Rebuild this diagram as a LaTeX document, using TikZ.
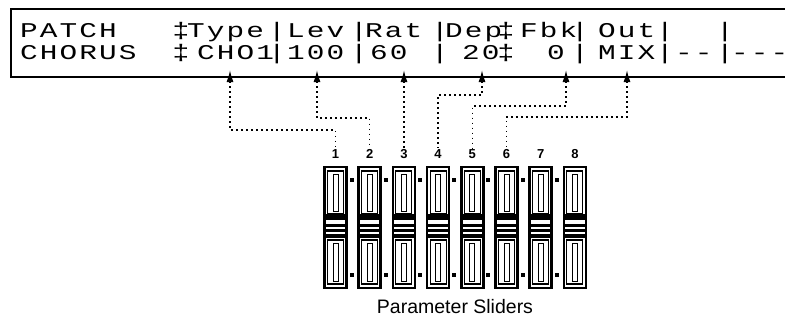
\documentclass[tikz,border=0pt]{standalone}
\usepackage{fontspec}
\setmainfont{Liberation Sans}
\newfontfamily\lcdfont[FakeStretch=1.4,LetterSpace=10]{Liberation Mono}
\usetikzlibrary{arrows.meta}
\begin{document}
\begin{tikzpicture}[x=1pt,y=-1pt,
  lcd/.style={inner sep=0pt, anchor=base west, font=\lcdfont\fontsize{21}{21}\selectfont},
  lcdc/.style={lcd, anchor=base},
  conn/.style={line width=1.5pt, dash pattern=on 1.5pt off 3.5pt, {Latex[length=12pt,width=7pt]}-},
  num/.style={font=\bfseries\fontsize{13}{13}\selectfont, inner sep=1pt},
  frame/.style={line width=1.6pt},
  outerbox/.style={line width=2.5pt},
  window/.style={line width=1.1pt},
  slot/.style={line width=0.9pt},
  band/.style={fill=black},
  sdot/.style={fill=black},
  caption/.style={font=\fontsize{19.5}{19.5}\selectfont, inner sep=0pt}
]
\useasboundingbox (0,0) rectangle (785,324);

% display frame
\draw[frame] (790,9) -- (11,9) -- (11,77) -- (790,77);

% row 1
\node[lcd] (r1a) at (20,37) {PATCH};
\node[lcdc] (r1b) at (181,37) {‡};
\node[lcd] (r1c) at (187,37) {Type};
\node[lcdc] (r1d) at (277,37) {|};
\node[lcd] (r1e) at (287,37) {Lev};
\node[lcdc] (r1f) at (359,37) {|};
\node[lcd] (r1g) at (365,37) {Rat};
\node[lcdc] (r1h) at (440,37) {|};
\node[lcd] (r1i) at (445,37) {Dep};
\node[lcdc] (r1j) at (506,37) {‡};
\node[lcd] (r1k) at (520,37) {Fbk};
\node[lcdc] (r1l) at (580,37) {|};
\node[lcd] (r1m) at (598,37) {Out};
\node[lcdc] (r1n) at (665,37) {|};
\node[lcdc] (r1o) at (725,37) {|};

% row 2
\node[lcd] (r2a) at (20,59) {CHORUS};
\node[lcdc] (r2b) at (181,59) {‡};
\node[lcd] (r2c) at (197,59) {CHO1};
\node[lcdc] (r2d) at (277,59) {|};
\node[lcd] (r2e) at (287,59) {100};
\node[lcdc] (r2f) at (359,59) {|};
\node[lcd] (r2g) at (370,59) {60};
\node[lcdc] (r2h) at (440,59) {|};
\node[lcd] (r2i) at (462,59) {20};
\node[lcdc] (r2j) at (506,59) {‡};
\node[lcd] (r2k) at (547,59) {0};
\node[lcdc] (r2l) at (580,59) {|};
\node[lcd] (r2m) at (598,59) {MIX};
\node[lcdc] (r2n) at (665,59) {|};
\node[lcd] (r2o) at (675,59) {--};
\node[lcdc] (r2p) at (725,59) {|};
\node[lcd] (r2q) at (731,59) {---};

% arrow points
\coordinate (a1) at (230,70);
\coordinate (a2) at (317,70);
\coordinate (a3) at (404,70);
\coordinate (a4) at (482,70);
\coordinate (a5) at (566,70);
\coordinate (a6) at (627,70);

% sliders
\foreach \i in {1,...,8} {
  \pgfmathsetmacro{\c}{335.5+(\i-1)*34.2}
  \node[num] (n\i) at (\c,154) {\i};
  \draw[outerbox] (\c-11,167) rectangle (\c+11,288);
  \draw[window] (\c-8,171) rectangle (\c+8,214);
  \draw[slot] (\c-2.5,174) rectangle (\c+2.5,211);
  \fill[band] (\c-11,214) rectangle (\c+11,220);
  \fill[band] (\c-11,224) rectangle (\c+11,226.5);
  \fill[band] (\c-11,229) rectangle (\c+11,231.5);
  \fill[band] (\c-11,234) rectangle (\c+11,238);
  \draw[window] (\c-8,240) rectangle (\c+8,284);
  \draw[slot] (\c-2.5,243) rectangle (\c+2.5,281);
}
\foreach \i in {1,...,7} {
  \pgfmathsetmacro{\c}{335.5+(\i-1)*34.2}
  \fill[sdot] (\c+14,178) rectangle (\c+18,182);
  \fill[sdot] (\c+14,273) rectangle (\c+18,277);
}

% connectors
\draw[conn] (a1) -- ++(0,60) -| (n1.north);
\draw[conn] (a2) -- ++(0,48) -| (n2.north);
\draw[conn] (a3) -- (a3 |- n3.north);
\draw[conn] (a4) -- ++(0,25) -| (n4.north);
\draw[conn] (a5) -- ++(0,36) -| (n5.north);
\draw[conn] (a6) -- ++(0,47) -| (n6.north);

\node[caption] (cap) at (455,307) {Parameter Sliders};
\end{tikzpicture}
\end{document}
